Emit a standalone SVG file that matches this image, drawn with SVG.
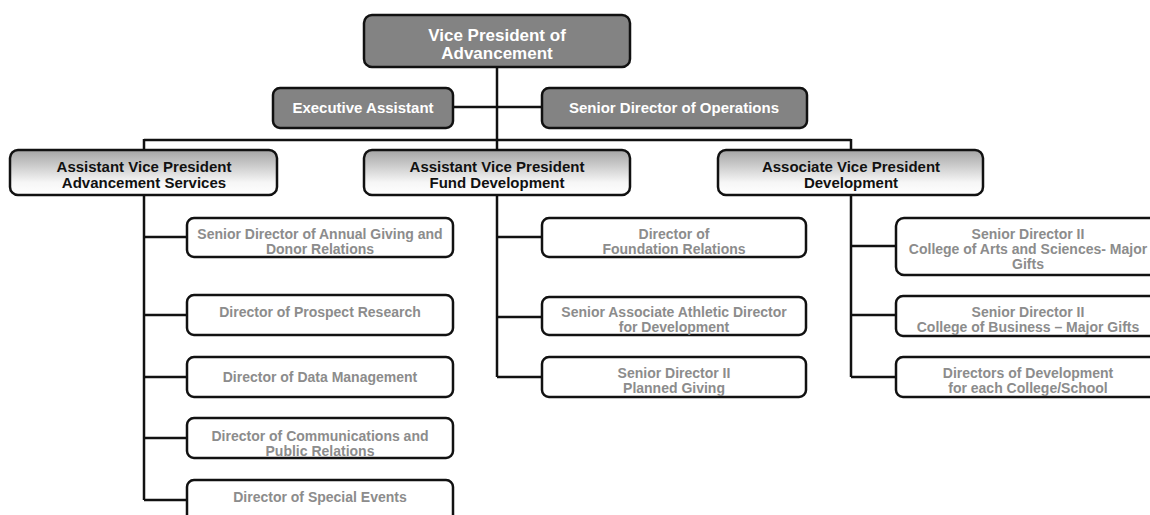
<svg xmlns="http://www.w3.org/2000/svg" width="1150" height="515" viewBox="0 0 1150 515">
<defs>
<linearGradient id="avpGrad" x1="0" y1="0" x2="0" y2="1">
<stop offset="0" stop-color="#a4a4a4"/>
<stop offset="0.72" stop-color="#f6f6f6"/>
<stop offset="1" stop-color="#ffffff"/>
</linearGradient>
</defs>
<style>
.dark{fill:#838383;stroke:#111;stroke-width:2.5}
.avp{fill:url(#avpGrad);stroke:#111;stroke-width:2.5}
.child{fill:#fff;stroke:#111;stroke-width:2.5}
.wt{font-family:"Liberation Sans",Arial,sans-serif;font-weight:bold;fill:#fff;text-anchor:middle}
.bt{font-family:"Liberation Sans",Arial,sans-serif;font-weight:bold;font-size:15px;fill:#111;text-anchor:middle}
.gt{font-family:"Liberation Sans",Arial,sans-serif;font-weight:bold;font-size:14px;fill:#8c8c8c;text-anchor:middle}
.ln{stroke:#111;stroke-width:2.5;fill:none}
</style>
<rect width="1150" height="515" fill="#fff"/>
<g id="connectors">
<path class="ln" d="M497 67V150"/>
<path class="ln" d="M453 107H542"/>
<path class="ln" d="M144 140H851M144 139V150M851 139V150"/>
<path class="ln" d="M144 195V500M144 237H187M144 315H187M144 377H187M144 438H187M144 500H187"/>
<path class="ln" d="M497 195V377M497 237H542M497 317H542M497 377H542"/>
<path class="ln" d="M851 195V377M851 246H896M851 315H896M851 377H896"/>
</g>
<g id="vp">
<rect class="dark" x="364" y="15" width="266" height="52" rx="8"/>
<text class="wt" font-size="17" x="497" y="41">Vice President of</text>
<text class="wt" font-size="17" x="497" y="59">Advancement</text>
</g>
<g id="exec-assistant">
<rect class="dark" x="273" y="88" width="180" height="40" rx="7"/>
<text class="wt" font-size="15" x="363" y="113">Executive Assistant</text>
</g>
<g id="senior-director-operations">
<rect class="dark" x="542" y="88" width="265" height="40" rx="7"/>
<text class="wt" font-size="15" x="674" y="113">Senior Director of Operations</text>
</g>
<g id="avp-advancement-services">
<rect class="avp" x="10" y="150" width="267" height="45" rx="8"/>
<text class="bt" x="144" y="172">Assistant Vice President</text>
<text class="bt" x="144" y="188">Advancement Services</text>
</g>
<g id="avp-fund-development">
<rect class="avp" x="364" y="150" width="266" height="45" rx="8"/>
<text class="bt" x="497" y="172">Assistant Vice President</text>
<text class="bt" x="497" y="188">Fund Development</text>
</g>
<g id="assoc-vp-development">
<rect class="avp" x="718" y="150" width="265" height="45" rx="8"/>
<text class="bt" x="851" y="172">Associate Vice President</text>
<text class="bt" x="851" y="188">Development</text>
</g>
<g id="annual-giving">
<rect class="child" x="187" y="218" width="266" height="39" rx="7"/>
<text class="gt" x="320" y="239">Senior Director of Annual Giving and</text>
<text class="gt" x="320" y="254">Donor Relations</text>
</g>
<g id="prospect-research">
<rect class="child" x="187" y="295" width="266" height="40" rx="7"/>
<text class="gt" x="320" y="317">Director of Prospect Research</text>
</g>
<g id="data-management">
<rect class="child" x="187" y="357" width="266" height="40" rx="7"/>
<text class="gt" x="320" y="382">Director of Data Management</text>
</g>
<g id="communications">
<rect class="child" x="187" y="418" width="266" height="40" rx="7"/>
<text class="gt" x="320" y="441">Director of Communications and</text>
<text class="gt" x="320" y="456">Public Relations</text>
</g>
<g id="special-events">
<rect class="child" x="187" y="480" width="266" height="42" rx="7"/>
<text class="gt" x="320" y="502">Director of Special Events</text>
</g>
<g id="foundation-relations">
<rect class="child" x="542" y="218" width="264" height="39" rx="7"/>
<text class="gt" x="674" y="239">Director of</text>
<text class="gt" x="674" y="254">Foundation Relations</text>
</g>
<g id="athletic-director">
<rect class="child" x="542" y="297" width="264" height="38" rx="7"/>
<text class="gt" x="674" y="317">Senior Associate Athletic Director</text>
<text class="gt" x="674" y="332">for Development</text>
</g>
<g id="planned-giving">
<rect class="child" x="542" y="357" width="264" height="40" rx="7"/>
<text class="gt" x="674" y="378">Senior Director II</text>
<text class="gt" x="674" y="393">Planned Giving</text>
</g>
<g id="arts-sciences">
<rect class="child" x="896" y="218" width="266" height="57" rx="8"/>
<text class="gt" x="1028" y="239">Senior Director II</text>
<text class="gt" x="1028" y="254">College of Arts and Sciences- Major</text>
<text class="gt" x="1028" y="269">Gifts</text>
</g>
<g id="business">
<rect class="child" x="896" y="296" width="266" height="40" rx="7"/>
<text class="gt" x="1028" y="317">Senior Director II</text>
<text class="gt" x="1028" y="332">College of Business – Major Gifts</text>
</g>
<g id="directors-development">
<rect class="child" x="896" y="357" width="266" height="40" rx="7"/>
<text class="gt" x="1028" y="378">Directors of Development</text>
<text class="gt" x="1028" y="393">for each College/School</text>
</g>
</svg>
